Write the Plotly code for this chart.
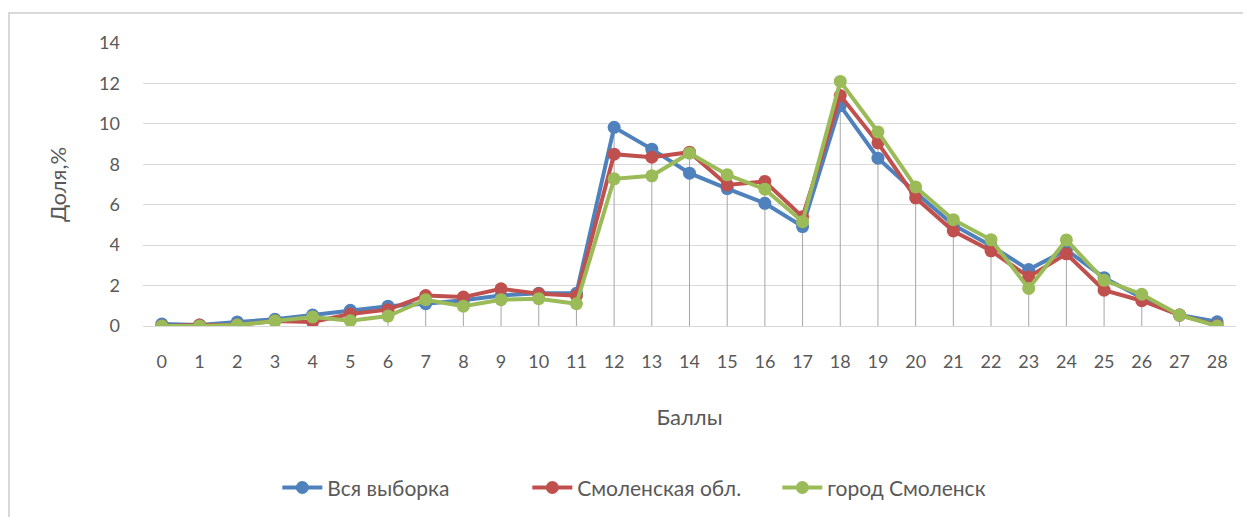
import plotly.graph_objects as go

scores = list(range(29))
vsya = [0.1, 0.05, 0.2, 0.33, 0.54, 0.78, 0.98, 1.1, 1.27, 1.51, 1.62, 1.62,
        9.83, 8.75, 7.56, 6.8, 6.07, 4.92, 10.9, 8.3, 6.6, 5.0, 3.97, 2.79,
        3.77, 2.39, 1.4, 0.54, 0.21]
oblast = [0.0, 0.05, 0.05, 0.25, 0.2, 0.59, 0.81, 1.51, 1.43, 1.84, 1.6, 1.5,
          8.5, 8.35, 8.6, 6.98, 7.15, 5.4, 11.4, 9.06, 6.34, 4.7, 3.72, 2.43,
          3.57, 1.77, 1.25, 0.54, 0.03]
gorod = [0.0, 0.0, 0.05, 0.25, 0.45, 0.26, 0.49, 1.3, 0.98, 1.3, 1.35, 1.1,
         7.28, 7.43, 8.55, 7.48, 6.77, 5.16, 12.1, 9.6, 6.88, 5.26, 4.27, 1.86,
         4.26, 2.26, 1.57, 0.54, 0.0]
series_names = ["Вся выборка", "Смоленская обл.", "город Смоленск"]
colors = ["#4f81bd", "#c0504d", "#9bbb59"]
y_ticks = [0, 2, 4, 6, 8, 10, 12, 14]

FONT = "Lato, Carlito, 'Liberation Sans', sans-serif"
TXT = "#595959"

# drop lines from the highest point of each category down to zero
drop_x, drop_y = [], []
for i, s in enumerate(scores):
    top = max(vsya[i], oblast[i], gorod[i])
    drop_x += [s, s, None]
    drop_y += [0, top, None]

fig = go.Figure()
fig.add_trace(go.Scatter(x=drop_x, y=drop_y, mode="lines",
                         line=dict(color="#a6a6a6", width=1),
                         showlegend=False, hoverinfo="skip"))
for name, vals, c in zip(series_names, [vsya, oblast, gorod], colors):
    fig.add_trace(go.Scatter(x=scores, y=vals, mode="lines+markers", name=name,
                             line=dict(color=c, width=4),
                             marker=dict(color=c, size=13)))

L, T, W, H = 135, 35, 1093, 283
fig.update_layout(
    width=1251, height=517,
    margin=dict(l=L, r=1251 - L - W, t=T, b=517 - T - H),
    plot_bgcolor="white", paper_bgcolor="white",
    font=dict(family=FONT, color=TXT, size=18),
    legend=dict(orientation="h", x=0.466, xanchor="center", y=-0.572,
                yanchor="middle", font=dict(size=21, color=TXT),
                itemwidth=40, tracegroupgap=0, entrywidth=195),
    showlegend=True,
    shapes=[dict(type="rect", xref="paper", yref="paper",
                 x0=(1 - L) / W, x1=(1262 - L) / W,
                 y0=(T + H - 530) / H, y1=(T + H - 5) / H,
                 line=dict(color="#d9d9d9", width=2), layer="below")],
)
fig.update_xaxes(
    tickmode="array", tickvals=scores, ticktext=[str(s) for s in scores],
    range=[-0.5, 28.5], showgrid=False, zeroline=False,
    showline=False, ticks="", ticklabelstandoff=23,
    tickfont=dict(size=18, color=TXT),
    title=dict(text="Баллы", font=dict(size=22, color=TXT), standoff=38),
)
fig.update_yaxes(
    tickmode="array", tickvals=y_ticks, range=[0, 14],
    showgrid=True, gridcolor="#d9d9d9", gridwidth=1,
    zeroline=True, zerolinecolor="#d9d9d9", zerolinewidth=1,
    showline=False, ticks="", ticklabelstandoff=22,
    tickfont=dict(size=18, color=TXT),
    title=dict(text="Доля,%", font=dict(size=22, color=TXT), standoff=26),
)

fig.write_html("out.html")
